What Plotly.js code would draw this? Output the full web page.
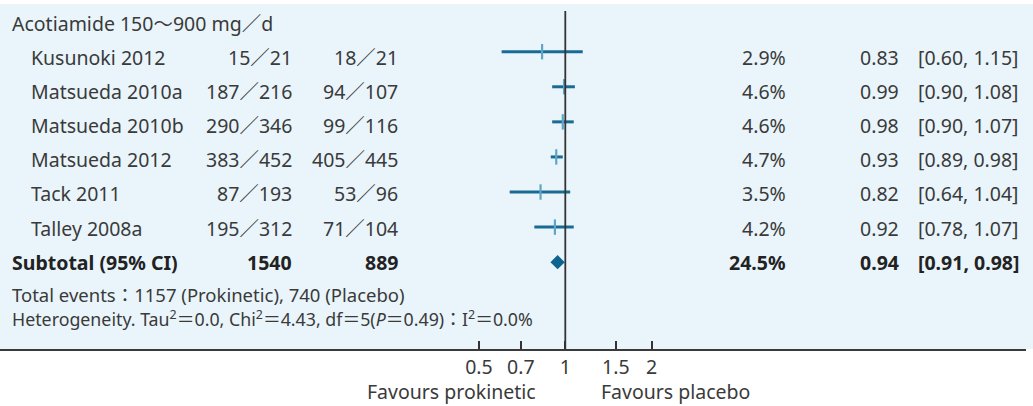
<!DOCTYPE html>
<html>
<head>
<meta charset="utf-8">
<script src="https://cdn.plot.ly/plotly-3.0.1.min.js"></script>
<style>
html,body{margin:0;padding:0;background:#fff;}
#chart{width:1033px;height:406px;}
</style>
</head>
<body>
<div id="chart"></div>
<script>
// ---- data ----
const groupTitle = 'Acotiamide 150～900 mg／d';
const studies = ['Kusunoki 2012', 'Matsueda 2010a', 'Matsueda 2010b', 'Matsueda 2012', 'Tack 2011', 'Talley 2008a'];
const prokEvents = [15, 187, 290, 383, 87, 195];
const prokTotal  = [21, 216, 346, 452, 193, 312];
const placEvents = [18, 94, 99, 405, 53, 71];
const placTotal  = [21, 107, 116, 445, 96, 104];
const weights = [2.9, 4.6, 4.6, 4.7, 3.5, 4.2];
const rr  = [0.83, 0.99, 0.98, 0.93, 0.82, 0.92];
const lo  = [0.60, 0.90, 0.90, 0.89, 0.64, 0.78];
const hi  = [1.15, 1.08, 1.07, 0.98, 1.04, 1.07];
const subTotalProk = 1540, subTotalPlac = 889, subWeight = 24.5;
const subRR = 0.94, subLo = 0.91, subHi = 0.98;
const totalEventsProk = 1157, totalEventsPlac = 740;
const het = {tau2: '0.0', chi2: '4.43', df: 5, p: '0.49', i2: '0.0'};
const tickVals = [0.5, 0.7, 1, 1.5, 2];
const tickText = ['0.5', '0.7', '1', '1.5', '2'];
const axisLabels = ['Favours prokinetic', 'Favours placebo'];

// ---- layout constants ----
const W = 1033, H = 406;
const mL = 0, mR = 7, mT = 11, mB = 57;
const plotW = W - mL - mR, plotH = H - mT - mB;
const x1px = 565.3, pxPerDec = 287;
const xRange = [-(x1px - mL) / pxPerDec, (W - mR - x1px) / pxPerDec];
const rowPx0 = 51.7, rowStep = 35.08;
const yRange = [1 + (H - mB - rowPx0) / rowStep, 1 + (mT - rowPx0) / rowStep];
const FONT = 'Noto Sans, Noto Sans CJK JP, sans-serif';
const TXT = '#3a3a3a';
const FS = 19.5;

function px2paperX(px) { return (px - mL) / plotW; }
function px2paperY(py) { return (H - mB - py) / plotH; }
function textRowY(i) { return 57.5 + (i - 1) * 34.1; }

const ann = [];
function addText(text, px, py, anchor, opts) {
  opts = opts || {};
  ann.push({
    xref: 'paper', yref: 'paper', x: px2paperX(px), y: px2paperY(py),
    xanchor: anchor, yanchor: 'middle', showarrow: false, text: text,
    font: {family: FONT, size: opts.size || FS, color: opts.color || TXT}
  });
}

addText(groupTitle, 10, textRowY(0), 'left');
studies.forEach((s, k) => {
  const y = textRowY(k + 1);
  addText(s, 29, y, 'left');
  addText(prokEvents[k] + '／' + prokTotal[k], 294, y, 'right');
  addText(placEvents[k] + '／' + placTotal[k], 400, y, 'right');
  addText(weights[k].toFixed(1) + '%', 788, y, 'right');
  addText(rr[k].toFixed(2), 901, y, 'right');
  addText('[' + lo[k].toFixed(2) + ', ' + hi[k].toFixed(2) + ']', 1021, y, 'right');
});
const ySub = textRowY(7);
addText('<b>Subtotal (95% CI)</b>', 10, ySub, 'left', {color: '#222'});
addText('<b>' + subTotalProk + '</b>', 294, ySub, 'right', {color: '#222'});
addText('<b>' + subTotalPlac + '</b>', 400, ySub, 'right', {color: '#222'});
addText('<b>' + subWeight.toFixed(1) + '%</b>', 788, ySub, 'right', {color: '#222'});
addText('<b>' + subRR.toFixed(2) + '</b>', 901, ySub, 'right', {color: '#222'});
addText('<b>[' + subLo.toFixed(2) + ', ' + subHi.toFixed(2) + ']</b>', 1021, ySub, 'right', {color: '#222'});
addText('Total events：' + totalEventsProk + ' (Prokinetic), ' + totalEventsPlac + ' (Placebo)', 10, 294, 'left', {size: 18.5});
addText('Heterogeneity. Tau<sup>2</sup>＝' + het.tau2 + ', Chi<sup>2</sup>＝' + het.chi2 +
        ', df＝' + het.df + '(<i>P</i>＝' + het.p + ')：I<sup>2</sup>＝' + het.i2 + '%', 10, 318.5, 'left', {size: 17.8});
addText(axisLabels[0], 538, 391, 'right');
addText(axisLabels[1], 599, 391, 'left');

// ---- traces ----
const ciX = [], ciY = [];
rr.forEach((v, k) => { ciX.push(lo[k], hi[k], null); ciY.push(k + 1, k + 1, null); });

const traces = [
  {type: 'scatter', mode: 'lines', x: ciX, y: ciY, line: {color: '#1a6b94', width: 3}, hoverinfo: 'skip', connectgaps: false},
  {type: 'scatter', mode: 'markers', x: rr, y: rr.map((v, k) => k + 1),
   marker: {symbol: 'line-ns-open', size: 11, color: '#5da6c7', line: {color: '#5da6c7', width: 2.2}}, hoverinfo: 'skip'},
  {type: 'scatter', mode: 'markers', x: [subRR], y: [7],
   marker: {symbol: 'diamond', size: 11, color: '#0c6590', line: {width: 0}}, hoverinfo: 'skip'}
];

const layout = {
  width: W, height: H,
  margin: {l: mL, r: mR, t: mT, b: mB, pad: 0},
  paper_bgcolor: '#ffffff', plot_bgcolor: 'rgba(0,0,0,0)',
  showlegend: false,
  font: {family: FONT, size: FS, color: TXT},
  xaxis: {
    type: 'log', range: xRange, tickvals: tickVals, ticktext: tickText,
    ticks: 'inside', ticklen: 8, tickwidth: 2, tickcolor: '#333',
    showline: true, linecolor: '#3a3a3a', linewidth: 2,
    showgrid: false, zeroline: false, fixedrange: true,
    tickfont: {family: FONT, size: FS, color: TXT}
  },
  yaxis: {range: yRange, visible: false, showgrid: false, zeroline: false, fixedrange: true},
  shapes: [
    {type: 'rect', xref: 'paper', yref: 'paper', x0: -0.01, x1: (W - mL) / plotW + 0.01,
     y0: 0, y1: px2paperY(4), fillcolor: '#e9f5fb', line: {width: 0}, layer: 'below'},
    {type: 'line', xref: 'x', yref: 'paper', x0: 1, x1: 1, y0: 0, y1: 1,
     line: {color: '#333', width: 1.8}, layer: 'above'}
  ],
  annotations: ann
};

Plotly.newPlot('chart', traces, layout, {displayModeBar: false, staticPlot: true});
</script>
</body>
</html>
